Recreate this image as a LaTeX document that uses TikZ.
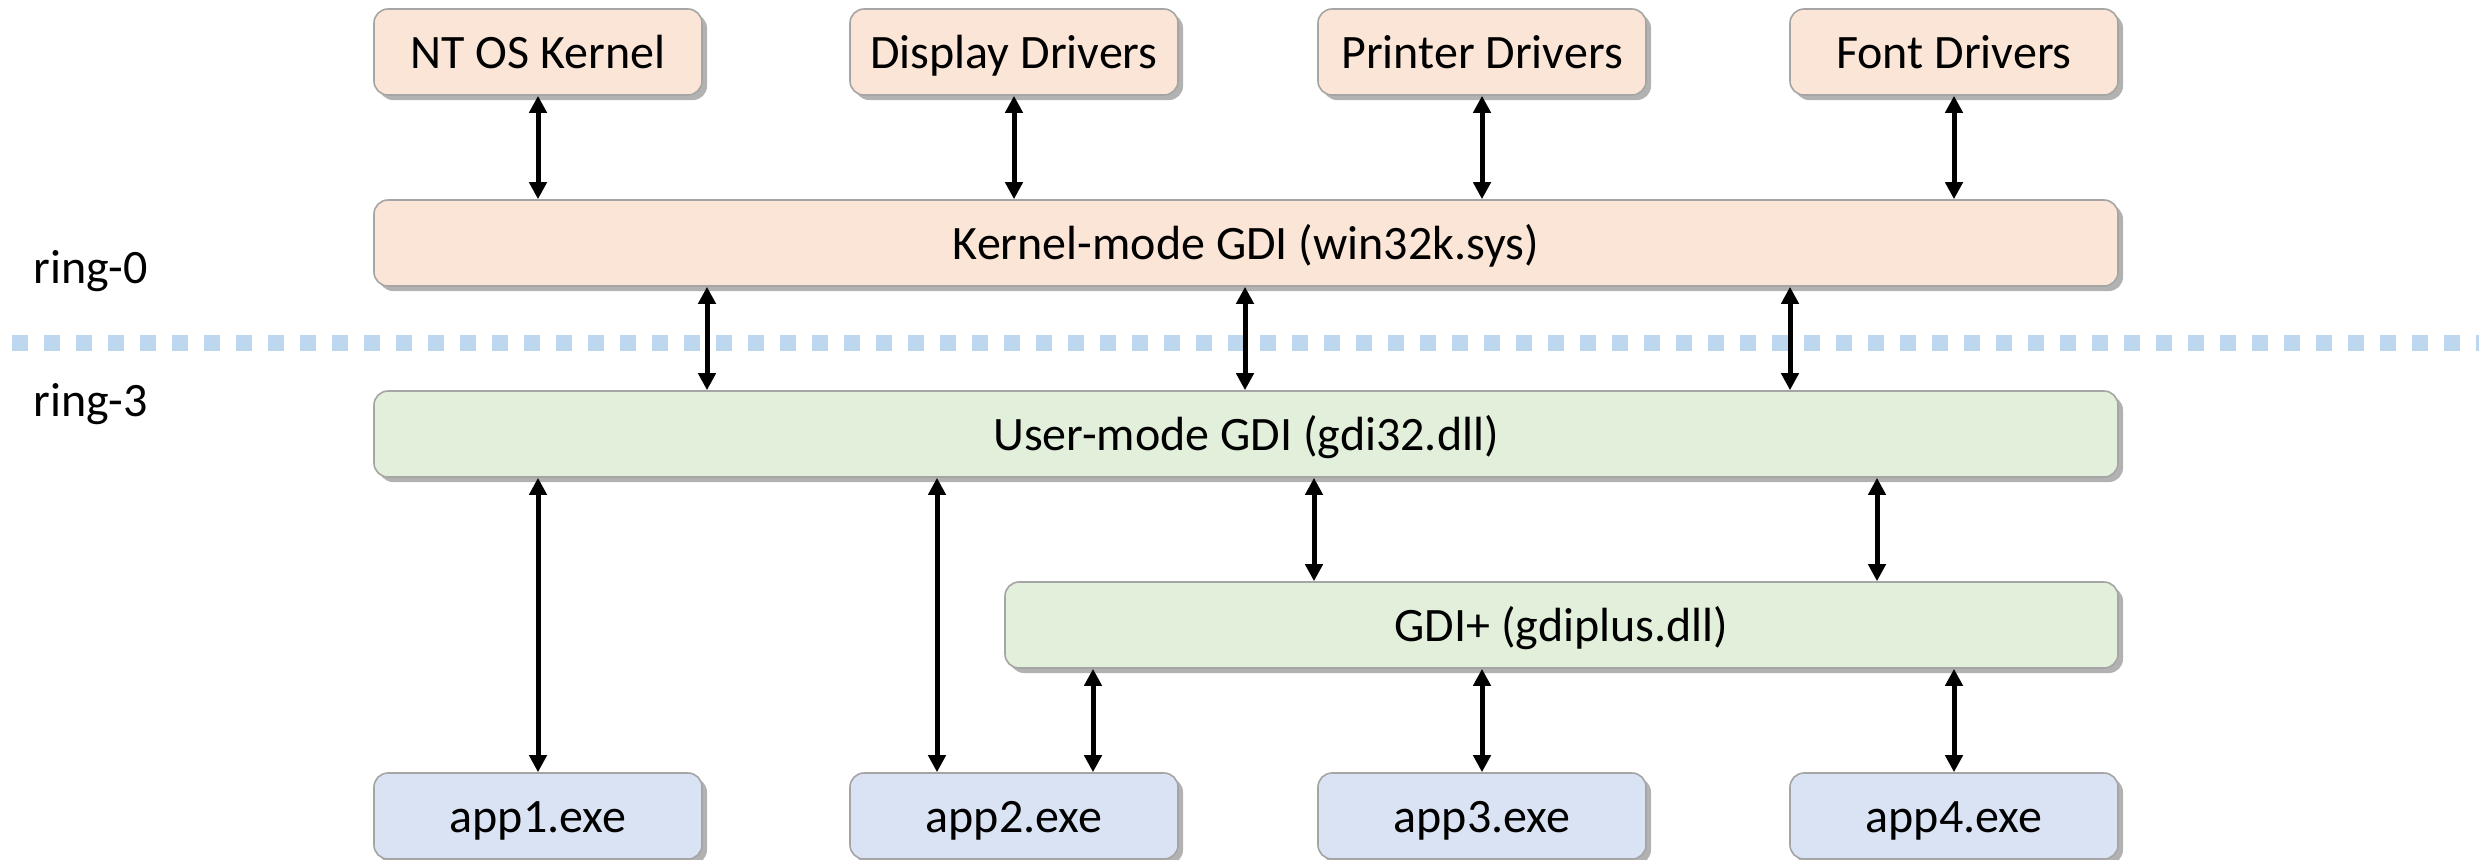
\documentclass[tikz,border=0pt]{standalone}
\usepackage{fontspec}
\setmainfont{Carlito}
\usetikzlibrary{arrows.meta}
\usetikzlibrary{shadows}

\definecolor{kernfill}{RGB}{251,229,214}
\definecolor{userfill}{RGB}{226,239,218}
\definecolor{appfill}{RGB}{218,227,243}
\definecolor{boxline}{RGB}{165,165,165}
\definecolor{ringline}{RGB}{189,215,238}

\tikzset{
  gdibox/.style={draw=boxline, line width=0.8pt, rounded corners=7pt, inner sep=0pt,
    minimum height=43pt, text height=20pt, text depth=4pt,
    drop shadow={shadow xshift=2.5pt, shadow yshift=-2.5pt, opacity=0.3, fill=black}},
  smallbox/.style={gdibox, minimum width=164pt},
  biarrow/.style={{Triangle[length=8.5pt,width=8.5pt]}-{Triangle[length=8.5pt,width=8.5pt]}, line width=2.5pt},
  ringlabel/.style={anchor=base west, inner sep=0pt}
}

\begin{document}
\begin{tikzpicture}[x=0.5pt,y=0.5pt,yscale=-1,font=\fontsize{24}{29}\selectfont]
\useasboundingbox (0,0) rectangle (2486,859);

%Ring separator
\coordinate (sepL) at (12,343);
\coordinate (sepR) at (2479,343);
\draw [ringline, line width=8pt, dash pattern=on 8pt off 8pt] (sepL) -- (sepR);

% Text Node
\node [ringlabel] (ring0) at (33,283) {ring-0};
% Text Node
\node [ringlabel] (ring3) at (33,416) {ring-3};

%Kernel side
\node [smallbox, fill=kernfill] (ntk) at (538,52) {NT OS Kernel};
\node [smallbox, fill=kernfill] (disp) at (1014,52) {Display Drivers};
\node [smallbox, fill=kernfill] (prn) at (1482,52) {Printer Drivers};
\node [smallbox, fill=kernfill] (fnt) at (1954,52) {Font Drivers};
\node [gdibox, fill=kernfill, minimum width=872pt] (kgdi) at (1246,243) {Kernel-mode GDI (win32k.sys)};

%User side
\node [gdibox, fill=userfill, minimum width=872pt] (ugdi) at (1246,434) {User-mode GDI (gdi32.dll)};
\node [gdibox, fill=userfill, minimum width=556.5pt] (gdip) at (1561.5,625) {GDI+ (gdiplus.dll)};

%Applications
\node [smallbox, fill=appfill] (app1) at (538,816) {app1.exe};
\node [smallbox, fill=appfill] (app2) at (1014,816) {app2.exe};
\node [smallbox, fill=appfill] (app3) at (1482,816) {app3.exe};
\node [smallbox, fill=appfill] (app4) at (1954,816) {app4.exe};

%Arrow columns
\coordinate (k1) at (707,0);
\coordinate (k2) at (1245,0);
\coordinate (k3) at (1790,0);
\coordinate (u1) at (1314,0);
\coordinate (u2) at (1877,0);
\coordinate (a2l) at (937,0);
\coordinate (a2r) at (1093,0);

%Straight Lines
\foreach \n in {ntk,disp,prn,fnt}
  \draw [biarrow] (\n.south) -- (\n.south |- kgdi.north);
\foreach \c in {k1,k2,k3}
  \draw [biarrow] (kgdi.south -| \c) -- (ugdi.north -| \c);
\foreach \c in {u1,u2}
  \draw [biarrow] (ugdi.south -| \c) -- (gdip.north -| \c);
\draw [biarrow] (ugdi.south -| app1.north) -- (app1.north);
\draw [biarrow] (ugdi.south -| a2l) -- (app2.north -| a2l);
\draw [biarrow] (gdip.south -| a2r) -- (app2.north -| a2r);
\draw [biarrow] (gdip.south -| app3.north) -- (app3.north);
\draw [biarrow] (gdip.south -| app4.north) -- (app4.north);

\end{tikzpicture}
\end{document}
